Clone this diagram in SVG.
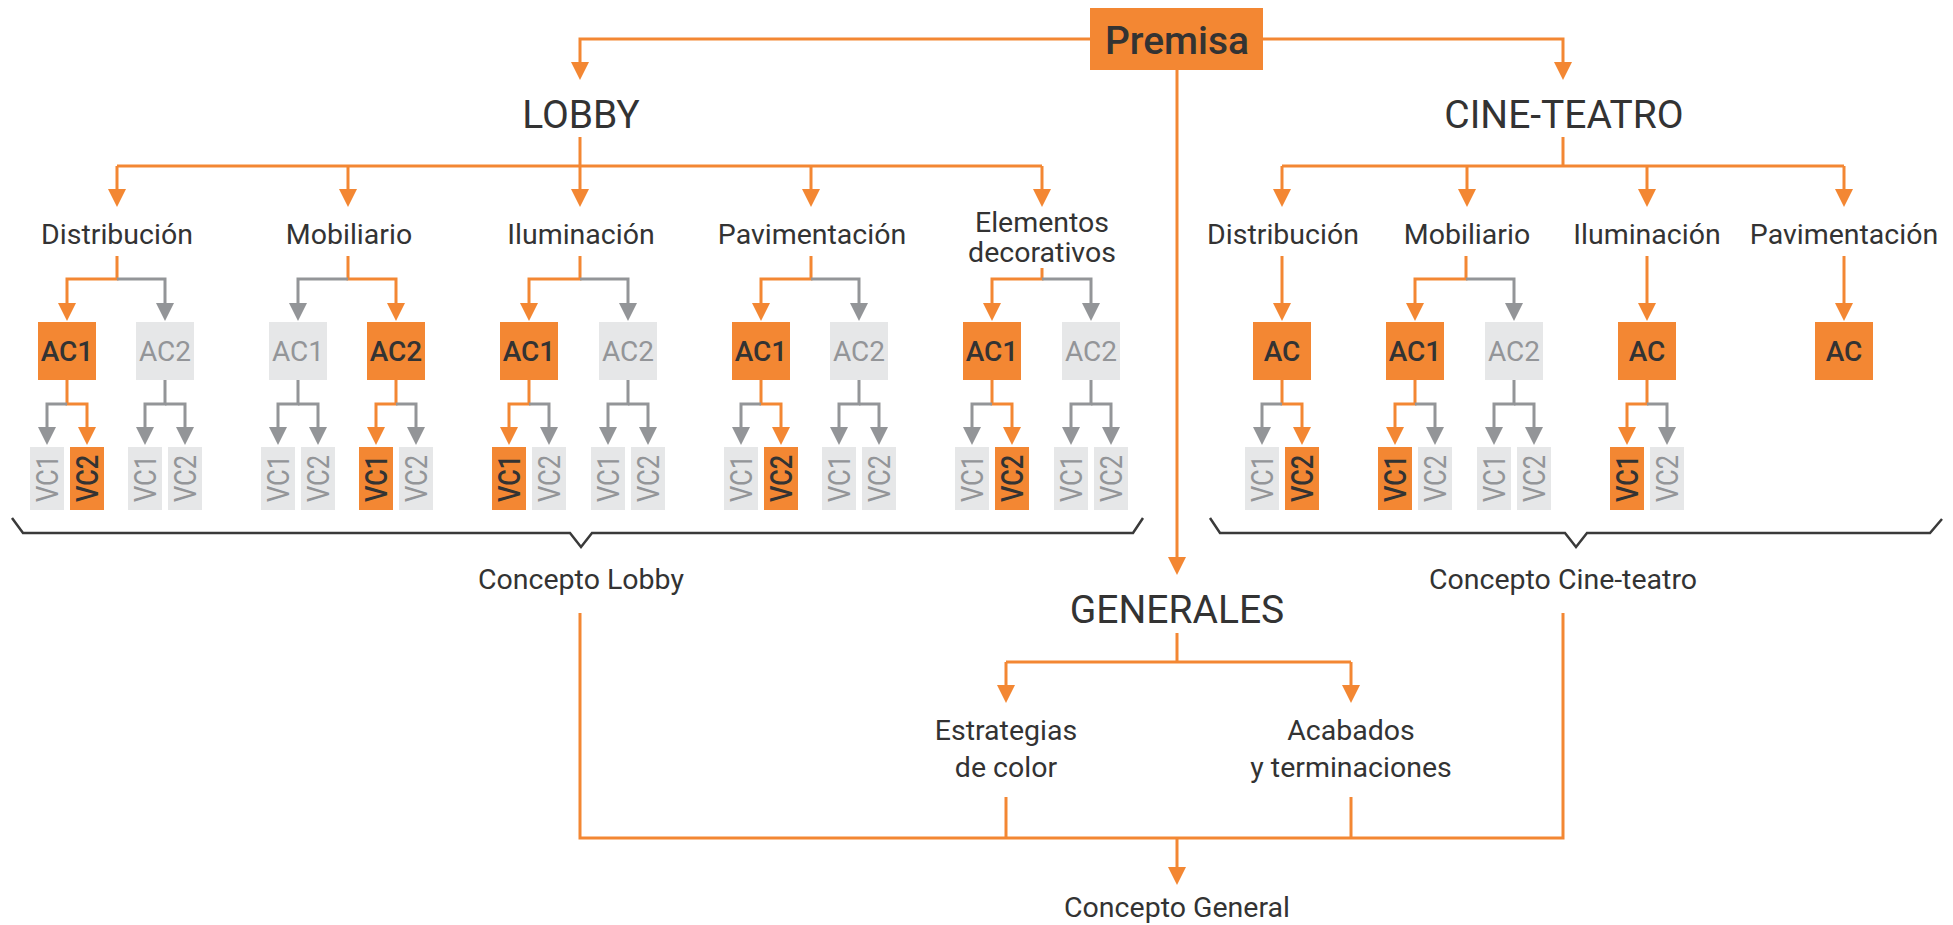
<svg xmlns="http://www.w3.org/2000/svg" width="1953" height="925" viewBox="0 0 1953 925">
<defs>
<marker id="mo" markerUnits="userSpaceOnUse" markerWidth="18" markerHeight="18" viewBox="0 0 18 18" refX="10" refY="9" orient="auto"><path d="M0,0 L18,9 L0,18 Z" fill="#F38733"/></marker>
<marker id="mg" markerUnits="userSpaceOnUse" markerWidth="18" markerHeight="18" viewBox="0 0 18 18" refX="10" refY="9" orient="auto"><path d="M0,0 L18,9 L0,18 Z" fill="#939598"/></marker>
<style>
.o{fill:none;stroke:#F38733;stroke-width:3}
.g{fill:none;stroke:#939598;stroke-width:3}
.o.a{marker-end:url(#mo)}
.g.a{marker-end:url(#mg)}
.br{fill:none;stroke:#3A3A3A;stroke-width:2.5}
text{font-family:Roboto,"Liberation Sans",sans-serif;fill:#333;text-anchor:middle}
.ti{font-size:39px}
.lb{font-size:28.5px}
.ac{font-size:28px}
.vc{font-size:31px}
.bo{fill:#F38733}
.bg{fill:#E6E7E8}
.tg{fill:#939598}
.sel{font-weight:500}
</style>
</defs>

<g id="connectors">
<path class="o a" d="M1090 39 H580 V72"/>
<path class="o a" d="M1263 39 H1563 V72"/>
<path class="o a" d="M1177 70 V567"/>
<path class="o" d="M580 137 V166"/>
<path class="o" d="M117 166 H1042"/>
<path class="o a" d="M117 166 V199"/>
<path class="o a" d="M348 166 V199"/>
<path class="o a" d="M580 166 V199"/>
<path class="o a" d="M811 166 V199"/>
<path class="o a" d="M1042 166 V199"/>
<path class="o" d="M1563 137 V166"/>
<path class="o" d="M1282 166 H1844"/>
<path class="o a" d="M1282 166 V199"/>
<path class="o a" d="M1467 166 V199"/>
<path class="o a" d="M1647 166 V199"/>
<path class="o a" d="M1844 166 V199"/>
<path class="o a" d="M117 256 V279 H67 V313"/>
<path class="g a" d="M117 279 H165 V313"/>
<path class="o a" d="M67 380 V404 H87 V437"/>
<path class="g a" d="M67 404 H47 V437"/>
<path class="g a" d="M165 380 V404 H145 V437"/>
<path class="g a" d="M165 404 H185 V437"/>
<path class="o a" d="M348 256 V279 H396 V313"/>
<path class="g a" d="M348 279 H298 V313"/>
<path class="g a" d="M298 380 V404 H278 V437"/>
<path class="g a" d="M298 404 H318 V437"/>
<path class="o a" d="M396 380 V404 H376 V437"/>
<path class="g a" d="M396 404 H416 V437"/>
<path class="o a" d="M580 256 V279 H529 V313"/>
<path class="g a" d="M580 279 H628 V313"/>
<path class="o a" d="M529 380 V404 H509 V437"/>
<path class="g a" d="M529 404 H549 V437"/>
<path class="g a" d="M628 380 V404 H608 V437"/>
<path class="g a" d="M628 404 H648 V437"/>
<path class="o a" d="M811 256 V279 H761 V313"/>
<path class="g a" d="M811 279 H859 V313"/>
<path class="o a" d="M761 380 V404 H781 V437"/>
<path class="g a" d="M761 404 H741 V437"/>
<path class="g a" d="M859 380 V404 H839 V437"/>
<path class="g a" d="M859 404 H879 V437"/>
<path class="o a" d="M1042 268 V279 H992 V313"/>
<path class="g a" d="M1042 279 H1091 V313"/>
<path class="o a" d="M992 380 V404 H1012 V437"/>
<path class="g a" d="M992 404 H972 V437"/>
<path class="g a" d="M1091 380 V404 H1071 V437"/>
<path class="g a" d="M1091 404 H1111 V437"/>
<path class="o a" d="M1282 256 V313"/>
<path class="o a" d="M1282 380 V404 H1302 V437"/>
<path class="g a" d="M1282 404 H1262 V437"/>
<path class="o a" d="M1466 256 V279 H1415 V313"/>
<path class="g a" d="M1466 279 H1514 V313"/>
<path class="o a" d="M1415 380 V404 H1395 V437"/>
<path class="g a" d="M1415 404 H1435 V437"/>
<path class="g a" d="M1514 380 V404 H1494 V437"/>
<path class="g a" d="M1514 404 H1534 V437"/>
<path class="o a" d="M1647 256 V313"/>
<path class="o a" d="M1647 380 V404 H1627 V437"/>
<path class="g a" d="M1647 404 H1667 V437"/>
<path class="o a" d="M1844 256 V313"/>
<path class="br" d="M12 518 L23 533 H570 L581 547 L592 533 H1133 L1143 518"/>
<path class="br" d="M1210 518 L1220 533 H1565 L1576 547 L1587 533 H1930 L1942 519"/>
<path class="o" d="M1177 633 V662"/>
<path class="o" d="M1006 662 H1351"/>
<path class="o a" d="M1006 662 V695"/>
<path class="o a" d="M1351 662 V695"/>
<path class="o" d="M580 613 V838 H1563 V613"/>
<path class="o" d="M1006 797 V838"/>
<path class="o" d="M1351 797 V838"/>
<path class="o a" d="M1177 838 V877"/>
</g>

<g id="premisa"><rect class="bo" x="1090" y="8" width="173" height="62"/><text class="ti sel" x="1177" y="54">Premisa</text></g>
<g id="lobby"><text class="ti" x="581" y="128">LOBBY</text></g>
<g id="cine-teatro"><text class="ti" x="1564" y="128">CINE-TEATRO</text></g>
<g id="generales"><text class="ti" x="1177" y="623">GENERALES</text></g>

<g id="l-distribucion"><text class="lb" x="117" y="244">Distribución</text></g>
<g id="l-mobiliario"><text class="lb" x="349" y="244">Mobiliario</text></g>
<g id="l-iluminacion"><text class="lb" x="581" y="244">Iluminación</text></g>
<g id="l-pavimentacion"><text class="lb" x="812" y="244">Pavimentación</text></g>
<g id="l-elementos"><text class="lb" x="1042" y="232">Elementos</text><text class="lb" x="1042" y="262">decorativos</text></g>
<g id="c-distribucion"><text class="lb" x="1283" y="244">Distribución</text></g>
<g id="c-mobiliario"><text class="lb" x="1467" y="244">Mobiliario</text></g>
<g id="c-iluminacion"><text class="lb" x="1647" y="244">Iluminación</text></g>
<g id="c-pavimentacion"><text class="lb" x="1844" y="244">Pavimentación</text></g>

<g id="l-d-ac1"><rect class="bo" x="38" y="322" width="58" height="58"/><text class="ac sel" x="67" y="361">AC1</text></g>
<g id="l-d-ac2"><rect class="bg" x="136" y="322" width="58" height="58"/><text class="ac tg" x="165" y="361">AC2</text></g>
<g id="l-m-ac1"><rect class="bg" x="269" y="322" width="58" height="58"/><text class="ac tg" x="298" y="361">AC1</text></g>
<g id="l-m-ac2"><rect class="bo" x="367" y="322" width="58" height="58"/><text class="ac sel" x="396" y="361">AC2</text></g>
<g id="l-i-ac1"><rect class="bo" x="500" y="322" width="58" height="58"/><text class="ac sel" x="529" y="361">AC1</text></g>
<g id="l-i-ac2"><rect class="bg" x="599" y="322" width="58" height="58"/><text class="ac tg" x="628" y="361">AC2</text></g>
<g id="l-p-ac1"><rect class="bo" x="732" y="322" width="58" height="58"/><text class="ac sel" x="761" y="361">AC1</text></g>
<g id="l-p-ac2"><rect class="bg" x="830" y="322" width="58" height="58"/><text class="ac tg" x="859" y="361">AC2</text></g>
<g id="l-e-ac1"><rect class="bo" x="963" y="322" width="58" height="58"/><text class="ac sel" x="992" y="361">AC1</text></g>
<g id="l-e-ac2"><rect class="bg" x="1062" y="322" width="58" height="58"/><text class="ac tg" x="1091" y="361">AC2</text></g>
<g id="c-d-ac"><rect class="bo" x="1253" y="322" width="58" height="58"/><text class="ac sel" x="1282" y="361">AC</text></g>
<g id="c-m-ac1"><rect class="bo" x="1386" y="322" width="58" height="58"/><text class="ac sel" x="1415" y="361">AC1</text></g>
<g id="c-m-ac2"><rect class="bg" x="1485" y="322" width="58" height="58"/><text class="ac tg" x="1514" y="361">AC2</text></g>
<g id="c-i-ac"><rect class="bo" x="1618" y="322" width="58" height="58"/><text class="ac sel" x="1647" y="361">AC</text></g>
<g id="c-p-ac"><rect class="bo" x="1815" y="322" width="58" height="58"/><text class="ac sel" x="1844" y="361">AC</text></g>

<g id="l-d1-vc1"><rect class="bg" x="30" y="447" width="34" height="63"/><text class="vc tg" transform="translate(47 478.5) rotate(-90)" y="11" textLength="47" lengthAdjust="spacingAndGlyphs">VC1</text></g>
<g id="l-d1-vc2"><rect class="bo" x="70" y="447" width="34" height="63"/><text class="vc sel" transform="translate(87 478.5) rotate(-90)" y="11" textLength="47" lengthAdjust="spacingAndGlyphs">VC2</text></g>
<g id="l-d2-vc1"><rect class="bg" x="128" y="447" width="34" height="63"/><text class="vc tg" transform="translate(145 478.5) rotate(-90)" y="11" textLength="47" lengthAdjust="spacingAndGlyphs">VC1</text></g>
<g id="l-d2-vc2"><rect class="bg" x="168" y="447" width="34" height="63"/><text class="vc tg" transform="translate(185 478.5) rotate(-90)" y="11" textLength="47" lengthAdjust="spacingAndGlyphs">VC2</text></g>
<g id="l-m1-vc1"><rect class="bg" x="261" y="447" width="34" height="63"/><text class="vc tg" transform="translate(278 478.5) rotate(-90)" y="11" textLength="47" lengthAdjust="spacingAndGlyphs">VC1</text></g>
<g id="l-m1-vc2"><rect class="bg" x="301" y="447" width="34" height="63"/><text class="vc tg" transform="translate(318 478.5) rotate(-90)" y="11" textLength="47" lengthAdjust="spacingAndGlyphs">VC2</text></g>
<g id="l-m2-vc1"><rect class="bo" x="359" y="447" width="34" height="63"/><text class="vc sel" transform="translate(376 478.5) rotate(-90)" y="11" textLength="47" lengthAdjust="spacingAndGlyphs">VC1</text></g>
<g id="l-m2-vc2"><rect class="bg" x="399" y="447" width="34" height="63"/><text class="vc tg" transform="translate(416 478.5) rotate(-90)" y="11" textLength="47" lengthAdjust="spacingAndGlyphs">VC2</text></g>
<g id="l-i1-vc1"><rect class="bo" x="492" y="447" width="34" height="63"/><text class="vc sel" transform="translate(509 478.5) rotate(-90)" y="11" textLength="47" lengthAdjust="spacingAndGlyphs">VC1</text></g>
<g id="l-i1-vc2"><rect class="bg" x="532" y="447" width="34" height="63"/><text class="vc tg" transform="translate(549 478.5) rotate(-90)" y="11" textLength="47" lengthAdjust="spacingAndGlyphs">VC2</text></g>
<g id="l-i2-vc1"><rect class="bg" x="591" y="447" width="34" height="63"/><text class="vc tg" transform="translate(608 478.5) rotate(-90)" y="11" textLength="47" lengthAdjust="spacingAndGlyphs">VC1</text></g>
<g id="l-i2-vc2"><rect class="bg" x="631" y="447" width="34" height="63"/><text class="vc tg" transform="translate(648 478.5) rotate(-90)" y="11" textLength="47" lengthAdjust="spacingAndGlyphs">VC2</text></g>
<g id="l-p1-vc1"><rect class="bg" x="724" y="447" width="34" height="63"/><text class="vc tg" transform="translate(741 478.5) rotate(-90)" y="11" textLength="47" lengthAdjust="spacingAndGlyphs">VC1</text></g>
<g id="l-p1-vc2"><rect class="bo" x="764" y="447" width="34" height="63"/><text class="vc sel" transform="translate(781 478.5) rotate(-90)" y="11" textLength="47" lengthAdjust="spacingAndGlyphs">VC2</text></g>
<g id="l-p2-vc1"><rect class="bg" x="822" y="447" width="34" height="63"/><text class="vc tg" transform="translate(839 478.5) rotate(-90)" y="11" textLength="47" lengthAdjust="spacingAndGlyphs">VC1</text></g>
<g id="l-p2-vc2"><rect class="bg" x="862" y="447" width="34" height="63"/><text class="vc tg" transform="translate(879 478.5) rotate(-90)" y="11" textLength="47" lengthAdjust="spacingAndGlyphs">VC2</text></g>
<g id="l-e1-vc1"><rect class="bg" x="955" y="447" width="34" height="63"/><text class="vc tg" transform="translate(972 478.5) rotate(-90)" y="11" textLength="47" lengthAdjust="spacingAndGlyphs">VC1</text></g>
<g id="l-e1-vc2"><rect class="bo" x="995" y="447" width="34" height="63"/><text class="vc sel" transform="translate(1012 478.5) rotate(-90)" y="11" textLength="47" lengthAdjust="spacingAndGlyphs">VC2</text></g>
<g id="l-e2-vc1"><rect class="bg" x="1054" y="447" width="34" height="63"/><text class="vc tg" transform="translate(1071 478.5) rotate(-90)" y="11" textLength="47" lengthAdjust="spacingAndGlyphs">VC1</text></g>
<g id="l-e2-vc2"><rect class="bg" x="1094" y="447" width="34" height="63"/><text class="vc tg" transform="translate(1111 478.5) rotate(-90)" y="11" textLength="47" lengthAdjust="spacingAndGlyphs">VC2</text></g>
<g id="c-d-vc1"><rect class="bg" x="1245" y="447" width="34" height="63"/><text class="vc tg" transform="translate(1262 478.5) rotate(-90)" y="11" textLength="47" lengthAdjust="spacingAndGlyphs">VC1</text></g>
<g id="c-d-vc2"><rect class="bo" x="1285" y="447" width="34" height="63"/><text class="vc sel" transform="translate(1302 478.5) rotate(-90)" y="11" textLength="47" lengthAdjust="spacingAndGlyphs">VC2</text></g>
<g id="c-m1-vc1"><rect class="bo" x="1378" y="447" width="34" height="63"/><text class="vc sel" transform="translate(1395 478.5) rotate(-90)" y="11" textLength="47" lengthAdjust="spacingAndGlyphs">VC1</text></g>
<g id="c-m1-vc2"><rect class="bg" x="1418" y="447" width="34" height="63"/><text class="vc tg" transform="translate(1435 478.5) rotate(-90)" y="11" textLength="47" lengthAdjust="spacingAndGlyphs">VC2</text></g>
<g id="c-m2-vc1"><rect class="bg" x="1477" y="447" width="34" height="63"/><text class="vc tg" transform="translate(1494 478.5) rotate(-90)" y="11" textLength="47" lengthAdjust="spacingAndGlyphs">VC1</text></g>
<g id="c-m2-vc2"><rect class="bg" x="1517" y="447" width="34" height="63"/><text class="vc tg" transform="translate(1534 478.5) rotate(-90)" y="11" textLength="47" lengthAdjust="spacingAndGlyphs">VC2</text></g>
<g id="c-i-vc1"><rect class="bo" x="1610" y="447" width="34" height="63"/><text class="vc sel" transform="translate(1627 478.5) rotate(-90)" y="11" textLength="47" lengthAdjust="spacingAndGlyphs">VC1</text></g>
<g id="c-i-vc2"><rect class="bg" x="1650" y="447" width="34" height="63"/><text class="vc tg" transform="translate(1667 478.5) rotate(-90)" y="11" textLength="47" lengthAdjust="spacingAndGlyphs">VC2</text></g>

<g id="concepto-lobby"><text class="lb" x="581" y="589">Concepto Lobby</text></g>
<g id="concepto-cine"><text class="lb" x="1563" y="589">Concepto Cine-teatro</text></g>
<g id="estrategias"><text class="lb" x="1006" y="740">Estrategias</text><text class="lb" x="1006" y="777">de color</text></g>
<g id="acabados"><text class="lb" x="1351" y="740">Acabados</text><text class="lb" x="1351" y="777">y terminaciones</text></g>
<g id="concepto-general"><text class="lb" x="1177" y="917">Concepto General</text></g>
</svg>
